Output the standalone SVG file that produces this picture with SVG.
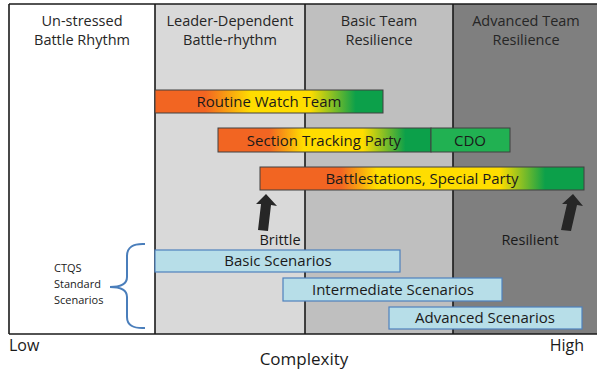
<svg xmlns="http://www.w3.org/2000/svg" width="597" height="370" viewBox="0 0 597 370">
  <defs>
    <style>
      text { font-family: "Open Sans", "Liberation Sans", sans-serif; fill: #1a1a1a; }
      .hdr { font-size: 14.5px; text-anchor: middle; fill: #262626; }
      .bar { stroke: #404040; stroke-width: 1; }
      .lbl { font-size: 15px; text-anchor: middle; }
      .scn { fill: #b7dee8; stroke: #4f81bd; stroke-width: 1.2; }
      .arrow { fill: #262626; }
      .axis { font-size: 16px; fill: #1a1a1a; }
    </style>
    <linearGradient id="gRoutine" x1="0" y1="0" x2="1" y2="0">
      <stop offset="0" stop-color="#f26522"/>
      <stop offset="0.22" stop-color="#f26522"/>
      <stop offset="0.42" stop-color="#ffdd00"/>
      <stop offset="0.68" stop-color="#ffdd00"/>
      <stop offset="0.88" stop-color="#0ca04a"/>
      <stop offset="1" stop-color="#0ca04a"/>
    </linearGradient>
    <linearGradient id="gSection" x1="0" y1="0" x2="1" y2="0">
      <stop offset="0" stop-color="#f26522"/>
      <stop offset="0.24" stop-color="#f26522"/>
      <stop offset="0.4" stop-color="#ffdd00"/>
      <stop offset="0.68" stop-color="#ffdd00"/>
      <stop offset="0.88" stop-color="#0ca04a"/>
      <stop offset="1" stop-color="#0ca04a"/>
    </linearGradient>
    <linearGradient id="gBattle" x1="0" y1="0" x2="1" y2="0">
      <stop offset="0" stop-color="#f26522"/>
      <stop offset="0.25" stop-color="#f26522"/>
      <stop offset="0.36" stop-color="#ffdd00"/>
      <stop offset="0.74" stop-color="#ffdd00"/>
      <stop offset="0.88" stop-color="#0ca04a"/>
      <stop offset="1" stop-color="#0ca04a"/>
    </linearGradient>
  </defs>

  <rect width="597" height="370" fill="#ffffff"/>

  <!-- Columns -->
  <g id="columns">
    <rect x="9" y="4" width="146" height="330" fill="#ffffff"/>
    <rect x="155" y="4" width="150" height="330" fill="#d9d9d9"/>
    <rect x="305" y="4" width="148" height="330" fill="#bfbfbf"/>
    <rect x="453" y="4" width="144" height="330" fill="#7f7f7f"/>
    <g stroke="#1a1a1a" stroke-width="1.6">
      <line x1="9" y1="4" x2="597" y2="4"/>
      <line x1="9" y1="334" x2="597" y2="334"/>
      <line x1="9" y1="4" x2="9" y2="334"/>
      <line x1="155" y1="4" x2="155" y2="334"/>
      <line x1="305" y1="4" x2="305" y2="334"/>
      <line x1="453" y1="4" x2="453" y2="334"/>
    </g>
    <text class="hdr" x="82" y="26">Un-stressed</text>
    <text class="hdr" x="82" y="45">Battle Rhythm</text>
    <text class="hdr" x="230" y="26">Leader-Dependent</text>
    <text class="hdr" x="230" y="45">Battle-rhythm</text>
    <text class="hdr" x="379" y="26">Basic Team</text>
    <text class="hdr" x="379" y="45">Resilience</text>
    <text class="hdr" x="526" y="26">Advanced Team</text>
    <text class="hdr" x="526" y="45">Resilience</text>
  </g>

  <!-- Team bars -->
  <g id="routine-watch">
    <rect class="bar" x="155" y="90" width="228" height="23" fill="url(#gRoutine)"/>
    <text class="lbl" x="269" y="107">Routine Watch Team</text>
  </g>
  <g id="section-tracking">
    <rect class="bar" x="218" y="128" width="213" height="24" fill="url(#gSection)"/>
    <text class="lbl" x="324" y="146">Section Tracking Party</text>
  </g>
  <g id="cdo">
    <rect class="bar" x="431" y="128" width="79" height="24" fill="#21b152"/>
    <text class="lbl" x="470" y="146">CDO</text>
  </g>
  <g id="battlestations">
    <rect class="bar" x="260" y="167" width="324" height="23" fill="url(#gBattle)"/>
    <text class="lbl" x="422" y="184">Battlestations, Special Party</text>
  </g>

  <!-- Brittle / Resilient markers -->
  <g id="brittle">
    <polygon class="arrow" points="266,194 277,206 271,205 268,231 258,230 261,204 256,204"/>
    <text class="lbl" x="280" y="245" style="font-size:14.5px">Brittle</text>
  </g>
  <g id="resilient">
    <polygon class="arrow" points="573,194 583,206 577,205 571,231 561,230 567,204 562,204"/>
    <text class="lbl" x="530" y="245" style="font-size:14.5px">Resilient</text>
  </g>

  <!-- Scenario bars -->
  <g id="basic-scenarios">
    <rect class="scn" x="155" y="250" width="245" height="22"/>
    <text class="lbl" x="278" y="266">Basic Scenarios</text>
  </g>
  <g id="intermediate-scenarios">
    <rect class="scn" x="283" y="278" width="219" height="23"/>
    <text class="lbl" x="393" y="295">Intermediate Scenarios</text>
  </g>
  <g id="advanced-scenarios">
    <rect class="scn" x="389" y="307" width="193" height="22"/>
    <text class="lbl" x="485" y="323">Advanced Scenarios</text>
  </g>

  <!-- Scenario grouping brace -->
  <g id="ctqs">
    <path d="M145,244 Q127,243 127,256 L127,277 Q127,287 110,287 Q127,287 127,297 L127,317 Q127,329 145,328" fill="none" stroke="#4a7ebb" stroke-width="2"/>
    <text x="54" y="272" style="font-size:11px">CTQS</text>
    <text x="54" y="288" style="font-size:11px">Standard</text>
    <text x="54" y="304" style="font-size:11px">Scenarios</text>
  </g>

  <!-- Axis labels -->
  <g id="axis">
    <text class="axis" x="9" y="351">Low</text>
    <text class="axis" x="584" y="351" text-anchor="end">High</text>
    <text class="axis" x="304" y="365" text-anchor="middle" style="font-size:17px">Complexity</text>
  </g>
</svg>
